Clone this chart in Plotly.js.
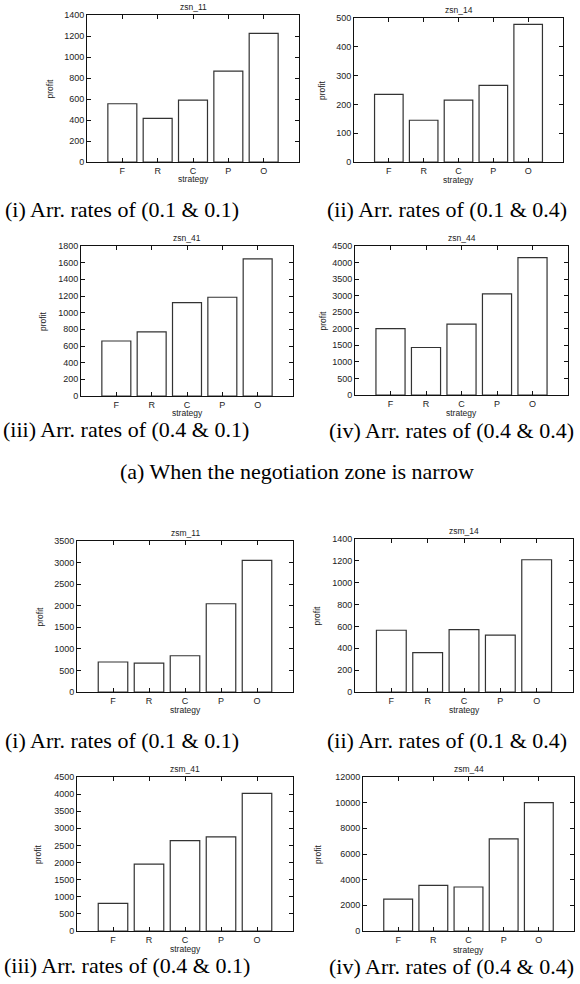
<!DOCTYPE html>
<html>
<head>
<meta charset="utf-8">
<script src="https://cdn.plot.ly/plotly-3.0.1.min.js"></script>
<style>
html,body{margin:0;padding:0;background:#fff;}
#chart{width:580px;height:984px;}
</style>
</head>
<body>
<div id="chart"></div>
<script>
// ---- data ----
const categories = ['F', 'R', 'C', 'P', 'O'];
const zsn_11 = [555, 415, 590, 865, 1225];
const zsn_14 = [235, 145, 215, 266, 478];
const zsn_41 = [660, 770, 1120, 1185, 1645];
const zsn_44 = [2005, 1435, 2140, 3055, 4150];
const zsm_11 = [695, 670, 840, 2045, 3050];
const zsm_14 = [565, 360, 570, 520, 1210];
const zsm_41 = [810, 1955, 2640, 2750, 4020];
const zsm_44 = [2480, 3550, 3430, 7180, 10000];
const panelNames = ['zsn_11', 'zsn_14', 'zsn_41', 'zsn_44', 'zsm_11', 'zsm_14', 'zsm_41', 'zsm_44'];
const panelValues = [zsn_11, zsn_14, zsn_41, zsn_44, zsm_11, zsm_14, zsm_41, zsm_44];
const yMax = [1400, 500, 1800, 4500, 3500, 1400, 4500, 12000];
const yStep = [200, 100, 200, 500, 500, 200, 500, 2000];
const xLabel = 'strategy';
const yLabel = 'profit';
const captions = [
  '(i) Arr. rates of (0.1 & 0.1)', '(ii) Arr. rates of (0.1 & 0.4)',
  '(iii) Arr. rates of (0.4 & 0.1)', '(iv) Arr. rates of (0.4 & 0.4)',
  '(a) When the negotiation zone is narrow',
  '(i) Arr. rates of (0.1 & 0.1)', '(ii) Arr. rates of (0.1 & 0.4)',
  '(iii) Arr. rates of (0.4 & 0.1)', '(iv) Arr. rates of (0.4 & 0.4)'
];

// ---- layout geometry (pixels) ----
const W = 580, H = 984;
const frames = [ // [left, right, top, bottom]
  [87, 299, 15, 162], [354, 563, 18, 162],
  [81, 293, 246, 396], [355, 568, 246, 395],
  [77, 293, 541, 692], [355, 573, 539, 692],
  [77, 293, 777, 931], [363, 574, 777, 931]
];
const titleY = [7, 10, 238, 238, 533, 531, 769, 769];
const stratY = [179, 180, 413, 413, 710, 710, 949, 950];
const profitX = [49, 322, 43, 322, 39, 316, 38, 318];
const captionPos = [[122, 210], [447, 210], [126, 429], [451, 430], [297, 471],
                    [122, 740], [447, 740], [127, 965], [451, 966]];

const px = x => x / W;
const py = y => 1 - y / H;
const sansFont = 'Liberation Sans, Arial, sans-serif';
const textCol = '#222';

const data = [];
const layout = {
  width: W, height: H,
  margin: {l: 0, r: 0, t: 0, b: 0},
  paper_bgcolor: '#fff', plot_bgcolor: '#fff',
  showlegend: false,
  font: {family: sansFont, size: 9, color: textCol},
  annotations: []
};

panelValues.forEach((vals, i) => {
  const n = i + 1;
  const xa = 'xaxis' + (n === 1 ? '' : n), ya = 'yaxis' + (n === 1 ? '' : n);
  const xr = 'x' + (n === 1 ? '' : n), yr = 'y' + (n === 1 ? '' : n);
  const f = frames[i];
  data.push({
    type: 'bar', x: categories, y: vals, xaxis: xr, yaxis: yr,
    width: 0.82,
    marker: {color: '#fff', line: {color: '#333', width: 1.2}},
    hoverinfo: 'x+y'
  });
  layout[xa] = {
    domain: [px(f[0]), px(f[1])], anchor: yr, type: 'category',
    range: [-1, 5], showgrid: false, zeroline: false,
    showline: true, linecolor: '#111', linewidth: 1, mirror: 'ticks',
    ticks: 'inside', ticklen: 4, tickcolor: '#111', tickwidth: 1,
    tickfont: {family: sansFont, size: 9, color: textCol}
  };
  layout[ya] = {
    domain: [py(f[3]), py(f[2])], anchor: xr,
    range: [0, yMax[i]], dtick: yStep[i], tick0: 0,
    tickformat: 'd', exponentformat: 'none',
    showgrid: false, zeroline: false,
    showline: true, linecolor: '#111', linewidth: 1, mirror: 'ticks',
    ticks: 'inside', ticklen: 4, tickcolor: '#111', tickwidth: 1,
    tickfont: {family: sansFont, size: 9, color: textCol}
  };
  const cx = (f[0] + f[1]) / 2, cy = (f[2] + f[3]) / 2;
  layout.annotations.push({
    text: panelNames[i], xref: 'paper', yref: 'paper',
    x: px(cx), y: py(titleY[i]), xanchor: 'center', yanchor: 'middle',
    showarrow: false, font: {family: sansFont, size: 8.5, color: textCol}
  });
  layout.annotations.push({
    text: xLabel, xref: 'paper', yref: 'paper',
    x: px(cx), y: py(stratY[i]), xanchor: 'center', yanchor: 'middle',
    showarrow: false, font: {family: sansFont, size: 8.5, color: textCol}
  });
  layout.annotations.push({
    text: yLabel, xref: 'paper', yref: 'paper', textangle: -90,
    x: px(profitX[i]), y: py(cy), xanchor: 'center', yanchor: 'middle',
    showarrow: false, font: {family: sansFont, size: 8.5, color: textCol}
  });
});

captions.forEach((c, i) => {
  layout.annotations.push({
    text: c.replace('&', '&amp;'), xref: 'paper', yref: 'paper',
    x: px(captionPos[i][0]), y: py(captionPos[i][1]),
    xanchor: 'center', yanchor: 'middle', showarrow: false,
    font: {family: 'Liberation Serif, Times New Roman, serif', size: 22, color: '#000'}
  });
});

Plotly.newPlot('chart', data, layout, {displayModeBar: false, staticPlot: true});
</script>
</body>
</html>
